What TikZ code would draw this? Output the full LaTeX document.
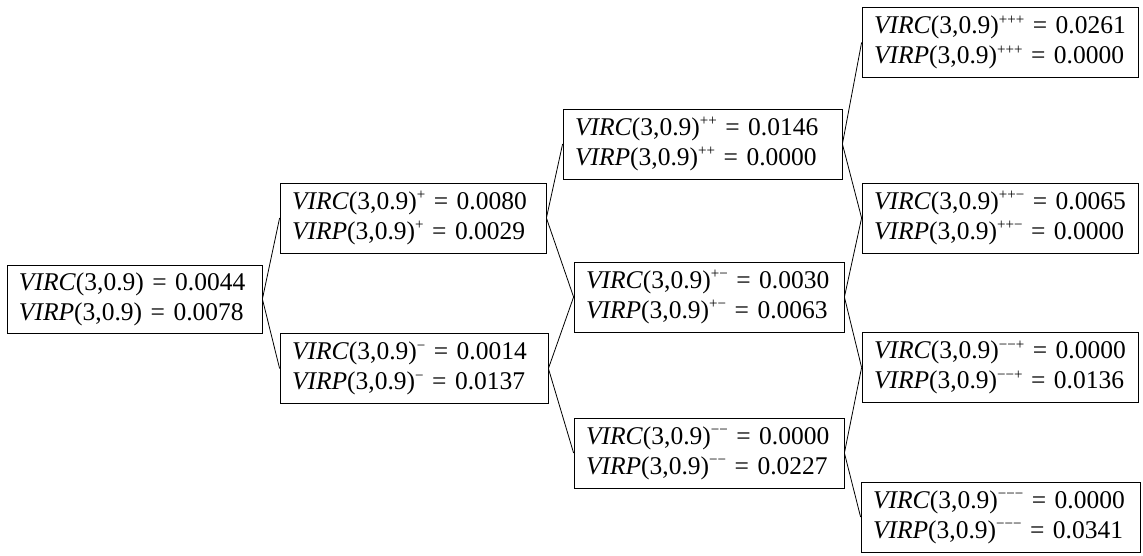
\documentclass[tikz,border=0pt]{standalone}
\usepackage{fontspec}
\setmainfont{Liberation Serif}
\newcommand{\sgp}{\raisebox{0.8ex}{\fontsize{15}{15}\selectfont+}}
\newcommand{\sgm}{\raisebox{0.8ex}{\fontsize{15}{15}\selectfont−}}
\newcommand{\vc}[2]{\mbox{\textit{VIRC}(3,0.9)#1 = #2}}
\newcommand{\vp}[2]{\mbox{\textit{VIRP}(3,0.9)#1 = #2}}
\begin{document}
\begin{tikzpicture}[x=1pt,y=-1pt,
  box/.style={draw, line width=0.8pt, inner xsep=12pt, inner ysep=0pt, minimum height=70pt,
    align=left, font=\fontsize{25.5}{30}\selectfont},
  link/.style={line width=0.8pt}]
\useasboundingbox (0,0) rectangle (1143,555);
\node[box, text width=231pt, minimum height=68pt] (r) at (134.5,299) {\vc{}{0.0044}\\\vp{}{0.0078}};
\node[box, text width=242pt] (p) at (413,218) {\vc{\sgp}{0.0080}\\\vp{\sgp}{0.0029}};
\node[box, text width=244pt] (m) at (414,368.5) {\vc{\sgm}{0.0014}\\\vp{\sgm}{0.0137}};
\node[box, text width=255pt] (pp) at (702.5,144) {\vc{\sgp\sgp}{0.0146}\\\vp{\sgp\sgp}{0.0000}};
\node[box, text width=246pt] (pm) at (709,297) {\vc{\sgp\sgm}{0.0030}\\\vp{\sgp\sgm}{0.0063}};
\node[box, text width=246pt] (mm) at (709,453) {\vc{\sgm\sgm}{0.0000}\\\vp{\sgm\sgm}{0.0227}};
\node[box, text width=252pt] (ppp) at (1000,42.5) {\vc{\sgp\sgp\sgp}{0.0261}\\\vp{\sgp\sgp\sgp}{0.0000}};
\node[box, text width=252pt] (ppm) at (1000,218) {\vc{\sgp\sgp\sgm}{0.0065}\\\vp{\sgp\sgp\sgm}{0.0000}};
\node[box, text width=252pt] (mmp) at (1000,367.5) {\vc{\sgm\sgm\sgp}{0.0000}\\\vp{\sgm\sgm\sgp}{0.0136}};
\node[box, text width=255pt] (mmm) at (1000.5,517) {\vc{\sgm\sgm\sgm}{0.0000}\\\vp{\sgm\sgm\sgm}{0.0341}};
\draw[link] (r.east) -- (p.west);
\draw[link] (r.east) -- (m.west);
\draw[link] (p.east) -- (pp.west);
\draw[link] (p.east) -- (pm.west);
\draw[link] (m.east) -- (pm.west);
\draw[link] (m.east) -- (mm.west);
\draw[link] (pp.east) -- (ppp.west);
\draw[link] (pp.east) -- (ppm.west);
\draw[link] (pm.east) -- (ppm.west);
\draw[link] (pm.east) -- (mmp.west);
\draw[link] (mm.east) -- (mmp.west);
\draw[link] (mm.east) -- (mmm.west);
\end{tikzpicture}
\end{document}
